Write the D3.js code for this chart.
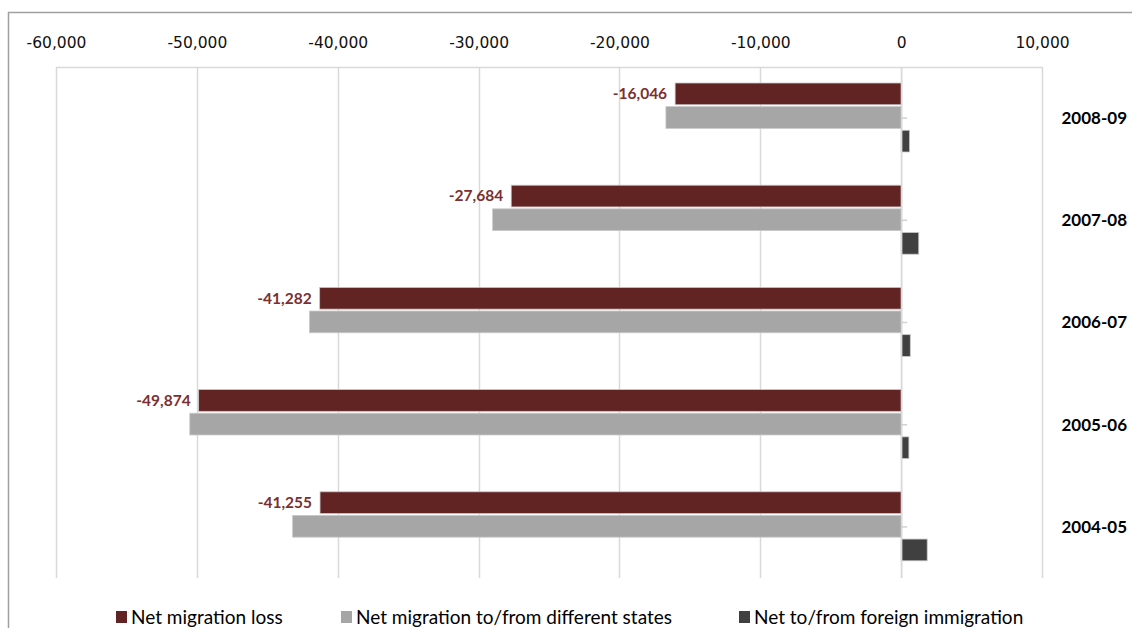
<!DOCTYPE html>
<html>
<head>
<meta charset="utf-8">
<script src="https://cdn.jsdelivr.net/npm/d3@7"></script>
<style>
  body { margin: 0; background: #fff; }
  svg { display: block; font-family: Lato, "Open Sans", sans-serif; }
</style>
</head>
<body>
<svg width="1132" height="628"></svg>
<script>
var years = ['2008-09', '2007-08', '2006-07', '2005-06', '2004-05'];
var netLoss = [-16046, -27684, -41282, -49874, -41255];
var netStates = [-16700, -29000, -42000, -50500, -43200];
var netForeign = [600, 1250, 650, 550, 1850];
var ticks = [-60000, -50000, -40000, -30000, -20000, -10000, 0, 10000];

var series = [
    { name: 'Net migration loss', values: netLoss, color: '#622423' },
    { name: 'Net migration to/from different states', values: netStates, color: '#a6a6a6' },
    { name: 'Net to/from foreign immigration', values: netForeign, color: '#404040' }
];

var svg = d3.select('svg');

// outer frame lines
svg.append('line').attr('x1', 8).attr('x2', 1132).attr('y1', 12.5).attr('y2', 12.5)
    .attr('stroke', '#a0a0a0').attr('stroke-width', 1.5);
svg.append('line').attr('x1', 8.5).attr('x2', 8.5).attr('y1', 12).attr('y2', 628)
    .attr('stroke', '#a0a0a0').attr('stroke-width', 1.5);

var x = d3.scaleLinear().domain([-60000, 10000]).range([56, 1042]);
var y = d3.scaleBand().domain(years).range([67, 578]);
var inner = d3.scaleBand().domain([0, 1, 2]).range([16, 85]).paddingInner(0.08);

// hyphen instead of unicode minus, like the original
var fmt = function(v) { return d3.format(',')(v).replace('\u2212', '-'); };

// gridlines
svg.append('g').selectAll('line').data(ticks).enter().append('line')
    .attr('x1', d => Math.round(x(d)) + 0.5).attr('x2', d => Math.round(x(d)) + 0.5)
    .attr('y1', 67).attr('y2', 578)
    .attr('stroke', '#d9d9d9').attr('stroke-width', 1.5);
svg.append('line').attr('x1', 56).attr('x2', 1043).attr('y1', 67.5).attr('y2', 67.5)
    .attr('stroke', '#d9d9d9').attr('stroke-width', 1.5);

// top axis labels
var xAxis = svg.append('g').attr('transform', 'translate(0,48)')
    .call(d3.axisTop(x).tickValues(ticks).tickSize(0).tickPadding(0).tickFormat(d => d === 0 ? '0' : fmt(d)));
xAxis.select('.domain').remove();
xAxis.selectAll('text').attr('font-family', '"DejaVu Sans", sans-serif').attr('font-size', 15.5)
    .attr('fill', '#111');

// bars
series.forEach(function(s, i) {
    svg.append('g').selectAll('rect').data(s.values).enter().append('rect')
        .attr('x', d => x(Math.min(0, d)))
        .attr('y', (d, j) => y(years[j]) + inner(i))
        .attr('width', d => Math.abs(x(d) - x(0)))
        .attr('height', inner.bandwidth())
        .attr('fill', s.color)
        .attr('stroke', '#c8c8c8').attr('stroke-width', 0.8);
});

// zero axis with small ticks
svg.append('line').attr('x1', x(0) + 0.5).attr('x2', x(0) + 0.5).attr('y1', 67).attr('y2', 578)
    .attr('stroke', '#d9d9d9').attr('stroke-width', 1.5);
svg.append('g').selectAll('line').data(years).enter().append('line')
    .attr('x1', x(0)).attr('x2', x(0) + 6)
    .attr('y1', d => y(d) + y.bandwidth() / 2).attr('y2', d => y(d) + y.bandwidth() / 2)
    .attr('stroke', '#d0d0d0').attr('stroke-width', 1.5);

// data labels
svg.append('g').selectAll('text').data(netLoss).enter().append('text')
    .attr('x', d => x(d) - 8)
    .attr('y', (d, j) => y(years[j]) + inner(0) + inner.bandwidth() / 2)
    .attr('dy', '0.35em')
    .attr('text-anchor', 'end')
    .attr('font-size', 15.5).attr('font-weight', 'bold').attr('fill', '#7b3030')
    .text(d => fmt(d));

// category labels on right
svg.append('g').selectAll('text').data(years).enter().append('text')
    .attr('x', 1127)
    .attr('y', d => y(d) + y.bandwidth() / 2)
    .attr('dy', '0.35em')
    .attr('text-anchor', 'end')
    .attr('font-size', 17).attr('font-weight', 'bold').attr('fill', '#000')
    .text(d => d);

// legend
var legendX = [116, 341, 739];
var legend = svg.append('g').selectAll('g').data(series).enter().append('g')
    .attr('transform', (d, i) => 'translate(' + legendX[i] + ',617)');
legend.append('rect').attr('x', 0).attr('y', -6).attr('width', 11).attr('height', 12)
    .attr('fill', d => d.color);
legend.append('text').attr('x', 15).attr('dy', '0.35em')
    .attr('font-size', 19).attr('fill', '#000')
    .text(d => d.name);
</script>
</body>
</html>
